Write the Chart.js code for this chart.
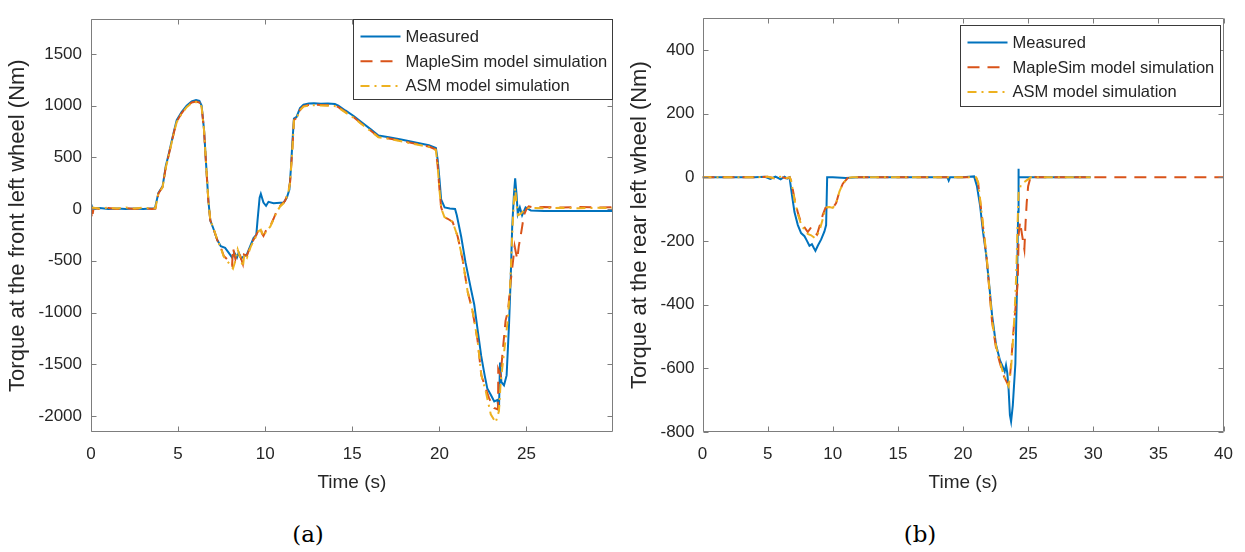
<!DOCTYPE html>
<html>
<head>
<meta charset="utf-8">
<script src="https://cdn.jsdelivr.net/npm/chart.js@4/dist/chart.umd.min.js"></script>
<style>
  body { margin: 0; background: #fff; width: 1245px; height: 552px; overflow: hidden; position: relative; }
  canvas { position: absolute; top: 0; }
  #front { left: 0; }
  #rear { left: 620px; }
  .cap { position: absolute; top: 518px; width: 80px; margin-left: -40px; text-align: center;
         font-family: "DejaVu Serif", "Liberation Serif", serif; font-size: 23px; color: #000; line-height: 32px; }
</style>
</head>
<body>
<canvas id="front" width="620" height="500"></canvas>
<canvas id="rear" width="625" height="500"></canvas>
<div class="cap" style="left:308px">(a)</div>
<div class="cap" style="left:920px">(b)</div>
<script>
// ---- data ----
const seriesNames = ['Measured', 'MapleSim model simulation', 'ASM model simulation'];

const frontXTicks = [0, 5, 10, 15, 20, 25];
const frontYTicks = [-2000, -1500, -1000, -500, 0, 500, 1000, 1500];
const rearXTicks = [0, 5, 10, 15, 20, 25, 30, 35, 40];
const rearYTicks = [-800, -600, -400, -200, 0, 200, 400];

// (a) front left wheel
const frontMeasuredT = [0, 0.1, 0.5, 1, 1.5, 2, 2.5, 3, 3.4, 3.67,
  3.87, 4.11, 4.3, 4.44, 4.63, 4.76, 4.92, 5.2, 5.49, 5.78,
  6.03, 6.22, 6.35, 6.49, 6.6, 6.74, 6.85, 7.05, 7.25, 7.45,
  7.7, 7.9, 8.1, 8.23, 8.38, 8.48, 8.61, 8.76, 8.95, 9.14,
  9.33, 9.49, 9.56, 9.68, 9.75, 9.9, 10.05, 10.19, 10.48, 10.86,
  11.05, 11.24, 11.39, 11.48, 11.56, 11.65, 11.8, 12.0, 12.2, 12.5,
  12.8, 13.2, 13.6, 14.0, 14.2, 14.6, 15.1, 15.5, 16.1, 16.5,
  17.1, 17.8, 18.7, 19.4, 19.8, 19.9, 20.0, 20.1, 20.3, 20.6,
  20.9, 21.0, 21.25, 21.5, 21.8, 22.0, 22.2, 22.4, 22.6, 22.75,
  22.95, 23.15, 23.33, 23.42, 23.48, 23.56, 23.71, 23.86, 24.0, 24.1,
  24.18, 24.28, 24.35, 24.43, 24.5, 24.62, 24.75, 24.95, 25.25, 26,
  27, 28, 29, 29.95];
const frontMeasured = [50, 5, 10, 0, 5, 0, 5, 0, 5, 5,
  156, 219, 422, 516, 656, 750, 860, 938, 1000, 1041,
  1054, 1045, 1000, 766, 453, 78, -110, -200, -300, -360,
  -375, -422, -469, -422, -469, -422, -478, -460, -437, -359,
  -281, -250, -109, 109, 147, 62, 31, 70, 56, 62,
  60, 109, 188, 400, 640, 875, 890, 975, 1010, 1020,
  1022, 1018, 1020, 1015, 1000, 953, 897, 844, 765, 710,
  694, 672, 640, 616, 590, 480, 300, 94, 16, 5,
  0, -60, -265, -516, -763, -922, -1172, -1420, -1608, -1734,
  -1795, -1860, -1845, -1953, -1484, -1672, -1703, -1608, -1110, -641,
  -172, 141, 297, 141, -47, 16, -60, 16, -13, -18,
  -20, -18, -20, -20];

const frontMapleT = [0, 0.05, 0.15, 0.5, 1, 1.5, 2, 2.5, 3, 3.5,
  3.7, 3.87, 4.11, 4.3, 4.44, 4.63, 4.76, 4.92, 5.2, 5.49,
  5.78, 6.03, 6.22, 6.35, 6.49, 6.6, 6.74, 6.85, 7.05, 7.25,
  7.45, 7.62, 7.9, 8.1, 8.15, 8.29, 8.42, 8.57, 8.72, 8.78,
  8.95, 9.18, 9.33, 9.49, 9.62, 9.71, 9.81, 9.9, 10.06, 10.29,
  10.48, 10.67, 10.86, 11.14, 11.33, 11.43, 11.56, 11.65, 11.8, 12.0,
  12.2, 12.5, 12.8, 13.2, 13.6, 14.0, 14.2, 14.6, 15.1, 15.5,
  16.1, 16.5, 17.1, 17.8, 18.7, 19.4, 19.8, 19.9, 20.0, 20.1,
  20.29, 20.48, 20.76, 21.05, 21.33, 21.62, 21.9, 22.19, 22.41, 22.66,
  22.85, 23.14, 23.37, 23.38, 23.52, 23.61, 23.8, 23.94, 24.09, 24.24,
  24.32, 24.47, 24.56, 24.66, 24.75, 24.85, 25.0, 25.13, 25.42, 26,
  27, 28, 29, 29.95];
const frontMaple = [45, -97, 10, 0, 10, 0, 10, 0, 10, 0,
  5, 150, 215, 410, 505, 645, 740, 845, 925, 990,
  1030, 1040, 1030, 990, 760, 450, 70, -110, -200, -300,
  -370, -453, -500, -547, -375, -484, -410, -453, -531, -440,
  -453, -344, -297, -250, -203, -172, -234, -259, -203, -165,
  -94, -16, 31, 78, 172, 260, 580, 860, 880, 960,
  995, 1005, 1008, 1006, 1004, 1000, 985, 940, 885, 830,
  752, 698, 682, 660, 628, 604, 575, 420, 200, 16,
  -78, -94, -125, -265, -484, -797, -984, -1266, -1608, -1734,
  -1828, -1922, -1937, -1547, -1608, -1420, -1078, -984, -703, -484,
  -359, -484, -359, -265, -172, -60, 0, 25, 16, 20,
  15, 20, 15, 18];

const frontAsmT = [0, 0.5, 1, 1.5, 2, 2.5, 3, 3.5, 3.7, 3.87,
  4.11, 4.3, 4.44, 4.63, 4.76, 4.92, 5.2, 5.49, 5.78, 6.03,
  6.22, 6.35, 6.49, 6.6, 6.74, 6.85, 7.05, 7.25, 7.45, 7.62,
  7.9, 8.15, 8.29, 8.42, 8.57, 8.72, 8.8, 8.95, 9.18, 9.33,
  9.49, 9.62, 9.75, 9.9, 10.06, 10.29, 10.48, 10.67, 10.86, 11.14,
  11.33, 11.43, 11.56, 11.65, 11.8, 12.0, 12.2, 12.5, 12.8, 13.2,
  13.6, 14.0, 14.2, 14.6, 15.1, 15.5, 16.1, 16.5, 17.1, 17.8,
  18.7, 19.4, 19.8, 19.9, 20.0, 20.1, 20.29, 20.48, 20.76, 21.05,
  21.33, 21.62, 21.9, 22.19, 22.41, 22.66, 22.95, 23.23, 23.42, 23.52,
  23.71, 23.9, 24.05, 24.14, 24.2, 24.28, 24.35, 24.43, 24.52, 24.66,
  24.85, 25.04, 26, 27, 28, 29, 29.95];
const frontAsm = [15, 5, 15, 5, 15, 5, 15, 5, 10, 150,
  210, 405, 500, 640, 735, 840, 920, 985, 1025, 1035,
  1025, 985, 760, 455, 75, -105, -195, -295, -375, -460,
  -520, -575, -500, -390, -470, -560, -440, -470, -360, -310,
  -260, -215, -200, -265, -215, -170, -100, -25, 25, 70,
  165, 255, 575, 855, 875, 955, 990, 1000, 1003, 1001,
  999, 995, 980, 935, 880, 825, 748, 694, 678, 655,
  624, 600, 570, 415, 195, 10, -78, -94, -125, -265,
  -484, -797, -984, -1266, -1608, -1760, -1984, -2062, -1953, -1672,
  -1390, -1110, -797, -422, -172, 78, 203, 47, -60, -47,
  -16, 10, 8, 12, 8, 12, 10];

// (b) rear left wheel
const rearMeasuredT = [0, 1, 2, 3, 4, 4.8, 5.2, 5.6, 6.0, 6.3, 6.5,
  6.68, 6.88, 7.06, 7.32, 7.57, 7.83, 8.0, 8.21, 8.4, 8.55, 8.67, 8.85,
  9.11, 9.36, 9.49, 9.57, 10, 11, 12, 13, 14, 15, 16, 17, 18,
  18.8, 18.9, 19, 20, 20.85, 21.07, 21.31, 21.53, 21.77, 22.02, 22.23, 22.53, 22.84,
  23.05, 23.2, 23.3, 23.4, 23.5, 23.6, 23.69, 23.82,
  24.02, 24.15, 24.23, 24.25, 24.28, 25, 26, 27, 28, 29, 29.8];
const rearMeasured = [0, 0, 0, 0, 0, 2, -5, 2, -6, 2, -4,
  0, -59, -109, -150, -175, -185, -198, -215, -210, -222, -231, -215,
  -195, -170, -150, 0, 0, -2, 0, 0, 0, 0, 0, 0, 0,
  0, -10, 0, 0, 3, -28, -89, -170, -241, -342, -433, -525, -575,
  -595, -610, -590, -615, -666, -747, -767, -717,
  -585, -332, -108, 27, 0, 0, 0, 0, 0, 0, 0];

const rearMapleT = [0, 2, 4, 5, 5.5, 6, 6.4, 6.7, 6.8, 7.06, 7.32, 7.57, 7.83,
  8.08, 8.34, 8.6, 8.79, 9.03, 9.24, 9.44, 9.75, 10.0, 10.26, 10.51, 10.77, 11.15, 11.5,
  13, 15, 17, 19, 21.0, 21.16, 21.47, 21.83, 22.23, 22.53, 22.84, 23.15, 23.45,
  23.56, 23.69, 23.87, 24.02, 24.2, 24.27, 24.38, 24.53,
  24.71, 24.8, 24.89, 25.0, 25.22, 25.6, 27, 30, 35, 40];
const rearMaple = [0, 0, 0, 2, -3, 2, -3, 0, -10, -66, -111, -142, -157,
  -172, -157, -172, -180, -147, -117, -96, -93, -96, -81, -45, -20, -2, 0,
  0, 0, 0, 0, 0, -18, -130, -261, -454, -535, -585, -626, -651,
  -646, -585, -484, -413, -332, -180, -140, -180,
  -226, -144, -79, -28, 7, 0, 0, 0, 0, 0];

const rearAsmT = [0, 2, 4, 5, 5.5, 6, 6.4, 6.7, 6.8, 7.06, 7.32, 7.57, 7.83,
  8.08, 8.34, 8.6, 8.79, 9.03, 9.24, 9.44, 9.56, 9.75, 10.0, 10.26, 10.51, 10.77, 11.15, 11.5,
  13, 15, 17, 19, 21.0, 21.16, 21.47, 21.83, 22.23, 22.53, 22.84, 23.15,
  23.5, 23.69, 23.82, 23.95, 24.08, 24.2, 24.27, 24.45, 24.8, 25.2, 27, 29.8];
const rearAsm = [0, 0, 0, 2, -3, 2, -3, 0, -10, -70, -115, -148, -165,
  -178, -182, -190, -185, -160, -130, -100, -94, -93, -96, -81, -45, -20, -2, 0,
  0, 0, 0, 0, 0, -15, -125, -255, -450, -530, -580, -625,
  -656, -600, -520, -433, -311, -129, -49, -22, -12, 0, 0, 0];

// ---- style ----
const FONT = "'Liberation Sans', Arial, Helvetica, sans-serif";
const INK = '#262626';
const EDGE = '#7d7d7d';
const colors = ['#0072BD', '#D95319', '#EDB120'];
const dashes = [[], [12, 8], [9, 5, 2, 5]];

function pts(t, v) {
  return t.map((x, i) => ({ x: x, y: v[i] }));
}

// MATLAB-like box, inward ticks on all sides, and the legend box
const matlabAxes = {
  id: 'matlabAxes',
  afterDatasetsDraw(chart, args, opts) {
    const { ctx, chartArea: a, scales } = chart;
    const L = Math.round(a.left) + 0.5, R = Math.round(a.right) - 0.5;
    const T = Math.round(a.top) + 0.5, B = Math.round(a.bottom) - 0.5;
    ctx.save();
    ctx.strokeStyle = EDGE;
    ctx.lineWidth = 1;
    ctx.beginPath();
    ctx.rect(L, T, R - L, B - T);
    scales.x.ticks.forEach(tk => {
      const p = Math.round(scales.x.getPixelForValue(tk.value)) + 0.5;
      ctx.moveTo(p, B); ctx.lineTo(p, B - 5);
      ctx.moveTo(p, T); ctx.lineTo(p, T + 5);
    });
    scales.y.ticks.forEach(tk => {
      const p = Math.round(scales.y.getPixelForValue(tk.value)) + 0.5;
      ctx.moveTo(L, p); ctx.lineTo(L + 5, p);
      ctx.moveTo(R, p); ctx.lineTo(R - 5, p);
    });
    ctx.stroke();

    // legend
    const bx = Math.round(a.right - opts.dx - opts.w) + 0.5;
    const by = Math.round(a.top + opts.dy) + 0.5;
    ctx.fillStyle = '#fff';
    ctx.fillRect(bx, by, opts.w, opts.h);
    ctx.strokeStyle = '#3a3a3a';
    ctx.strokeRect(bx, by, opts.w, opts.h);
    ctx.font = '16.5px ' + FONT;
    ctx.textBaseline = 'middle';
    ctx.textAlign = 'left';
    chart.data.datasets.forEach((ds, i) => {
      const yy = by + 17 + i * 24.7;
      ctx.beginPath();
      ctx.setLineDash(ds.borderDash || []);
      ctx.strokeStyle = ds.borderColor;
      ctx.lineWidth = ds.borderWidth;
      ctx.moveTo(bx + 7, yy);
      ctx.lineTo(bx + 47, yy);
      ctx.stroke();
      ctx.setLineDash([]);
      ctx.fillStyle = INK;
      ctx.fillText(ds.label, bx + 52, yy + 1);
    });
    ctx.restore();
  }
};

function build(id, cfg) {
  return new Chart(document.getElementById(id), {
    type: 'line',
    data: {
      datasets: cfg.series.map((s, i) => ({
        label: seriesNames[i],
        data: pts(s[0], s[1]),
        borderColor: colors[i],
        borderWidth: 2,
        borderDash: dashes[i],
        pointRadius: 0,
        tension: 0,
        fill: false,
        order: 3 - i
      }))
    },
    options: {
      responsive: false,
      animation: false,
      devicePixelRatio: 1,
      layout: { padding: { left: 0, right: cfg.padRight, top: 6, bottom: 0 } },
      plugins: {
        legend: { display: false },
        tooltip: { enabled: false },
        matlabAxes: cfg.legend
      },
      scales: {
        x: {
          type: 'linear',
          min: 0,
          max: cfg.xMax,
          afterFit: s => { s.height = 68; },
          afterBuildTicks: s => { s.ticks = cfg.xTicks.map(v => ({ value: v })); },
          grid: { display: false, drawTicks: false },
          border: { display: false },
          ticks: {
            autoSkip: false, maxRotation: 0,
            padding: 12, color: INK, font: { family: FONT, size: 17 },
            callback: v => String(v)
          },
          title: {
            display: true, text: 'Time (s)', color: INK,
            font: { family: FONT, size: 19 }, padding: { top: 0, bottom: 5.6 }
          }
        },
        y: {
          type: 'linear',
          min: cfg.yMin,
          max: cfg.yMax,
          afterFit: s => { s.width = cfg.yWidth; },
          afterBuildTicks: s => { s.ticks = cfg.yTicks.map(v => ({ value: v })); },
          grid: { display: false, drawTicks: false },
          border: { display: false },
          ticks: {
            autoSkip: false,
            padding: cfg.yPad, color: INK, font: { family: FONT, size: 17 },
            callback: v => String(v)
          },
          title: {
            display: true, text: cfg.yTitle, color: INK,
            font: { family: FONT, size: 22 }, padding: { top: cfg.yTitlePad, bottom: 0 }
          }
        }
      }
    },
    plugins: [matlabAxes]
  });
}

build('front', {
  series: [[frontMeasuredT, frontMeasured], [frontMapleT, frontMaple], [frontAsmT, frontAsm]],
  xMax: 29.95, yMin: -2155, yMax: 1835, xTicks: frontXTicks, yTicks: frontYTicks,
  yWidth: 91, yPad: 9, padRight: 7.3, yTitlePad: 5,
  yTitle: 'Torque at the front left wheel (Nm)',
  legend: { dx: 0.5, dy: -0.5, w: 259, h: 80 }
});

build('rear', {
  series: [[rearMeasuredT, rearMeasured], [rearMapleT, rearMaple], [rearAsmT, rearAsm]],
  xMax: 40, yMin: -800, yMax: 500, xTicks: rearXTicks, yTicks: rearYTicks,
  yWidth: 82.5, yPad: 8, padRight: 20.3, yTitlePad: 7,
  yTitle: 'Torque at the rear left wheel (Nm)',
  legend: { dx: 3.7, dy: 7, w: 260, h: 81 }
});
</script>
</body>
</html>
